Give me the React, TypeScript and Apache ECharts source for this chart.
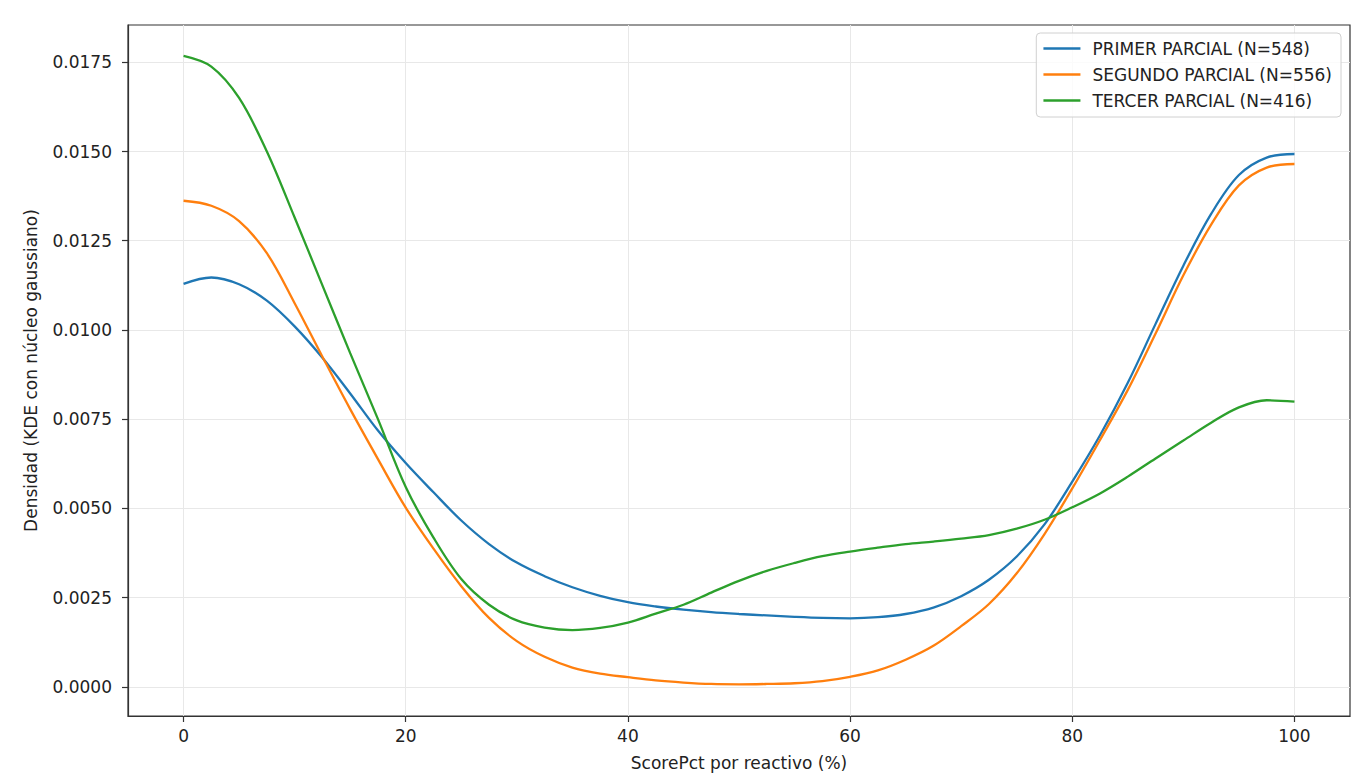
import React, { useEffect, useRef } from "react";
import * as echarts from "echarts";

const scorePct = [
  0, 2.5, 5, 7.5, 10, 12.5, 15, 17.5, 20, 22.5, 25, 27.5, 30, 32.5, 35, 37.5, 40,
  42.5, 45, 47.5, 50, 52.5, 55, 57.5, 60, 62.5, 65, 67.5, 70, 72.5, 75, 77.5, 80,
  82.5, 85, 87.5, 90, 92.5, 95, 97.5, 100,
];

const primer = [
  0.01129, 0.01147, 0.01128, 0.01082, 0.0101, 0.00922, 0.00822, 0.00718, 0.00627,
  0.00545, 0.00466, 0.004, 0.00348, 0.0031, 0.00279, 0.00255, 0.00237, 0.00225,
  0.00216, 0.00209, 0.00204, 0.002, 0.00196, 0.00193, 0.00192, 0.00195, 0.00204,
  0.00222, 0.00254, 0.003, 0.00365, 0.00455, 0.00575, 0.00705, 0.00852, 0.01017,
  0.0118, 0.01325, 0.01434, 0.01483, 0.01493,
];

const segundo = [
  0.01362, 0.01348, 0.01305, 0.01215, 0.01075, 0.00925, 0.00778, 0.00638, 0.00502,
  0.00387, 0.00282, 0.00193, 0.00128, 0.00084, 0.00054, 0.00037, 0.00027, 0.00018,
  0.00012, 0.00008, 0.00007, 0.00008, 0.0001, 0.00016, 0.00028, 0.00046, 0.00076,
  0.00115, 0.0017, 0.00232, 0.00318, 0.00428, 0.00556, 0.00692, 0.00832, 0.0099,
  0.01153, 0.01295, 0.01405, 0.01455, 0.01465,
];

const tercer = [
  0.01768, 0.01738, 0.0165, 0.015, 0.01315, 0.01125, 0.00935, 0.0075, 0.0056,
  0.00418, 0.00302, 0.0023, 0.00186, 0.00166, 0.00159, 0.00165, 0.0018, 0.00205,
  0.0023, 0.00264, 0.00297, 0.00325, 0.00347, 0.00366, 0.00379, 0.0039, 0.004,
  0.00407, 0.00415, 0.00425, 0.00443, 0.00468, 0.00503, 0.00542, 0.00589, 0.0064,
  0.0069, 0.0074, 0.00783, 0.00803, 0.00799,
];

const seriesNames = [
  "PRIMER PARCIAL (N=548)",
  "SEGUNDO PARCIAL (N=556)",
  "TERCER PARCIAL (N=416)",
];
const seriesColors = ["#1f77b4", "#ff7f0e", "#2ca02c"];

const xTicks = [0, 20, 40, 60, 80, 100];
const yTicks = [0, 0.0025, 0.005, 0.0075, 0.01, 0.0125, 0.015, 0.0175];

const FONT = "DejaVu Sans";

export default function App() {
  const ref = useRef<HTMLDivElement>(null);

  useEffect(() => {
    if (!ref.current) return;
    const chart = echarts.init(ref.current, undefined, { renderer: "svg" });
    const allSeries = [primer, segundo, tercer];
    chart.setOption({
      animation: false,
      backgroundColor: "#ffffff",
      textStyle: { fontFamily: FONT },
      grid: {
        left: 128,
        right: 7,
        top: 25,
        bottom: 61,
        show: true,
        borderColor: "#333333",
        borderWidth: 1.2,
        backgroundColor: "transparent",
      },
      legend: {
        orient: "vertical",
        right: 16,
        top: 33,
        padding: [7, 9, 8, 6],
        itemWidth: 37,
        itemHeight: 17,
        itemGap: 9,
        itemStyle: { opacity: 0 },
        lineStyle: { width: 2.3 },
        backgroundColor: "rgba(255,255,255,0.8)",
        borderColor: "#d0d0d0",
        borderWidth: 1,
        borderRadius: 4,
        textStyle: {
          fontFamily: FONT,
          fontSize: 17,
          color: "#222222",
          padding: [0, 0, 0, 7],
        },
        data: seriesNames,
      },
      xAxis: {
        type: "value",
        min: -5,
        max: 105,
        name: "ScorePct por reactivo (%)",
        nameLocation: "middle",
        nameGap: 38,
        nameTextStyle: { fontFamily: FONT, fontSize: 17, color: "#222222" },
        axisLine: {
          show: true,
          onZero: false,
          lineStyle: { color: "#333333", width: 1.2 },
        },
        axisTick: {
          show: true,
          length: 6,
          lineStyle: { color: "#333333", width: 1.2 },
          customValues: xTicks,
        },
        axisLabel: {
          fontFamily: FONT,
          fontSize: 17,
          color: "#222222",
          margin: 11,
          customValues: xTicks,
        },
        splitLine: { show: true, lineStyle: { color: "#e8e8e8", width: 1 } },
      },
      yAxis: {
        type: "value",
        min: -0.000818,
        max: 0.018545,
        name: "Densidad (KDE con núcleo gaussiano)",
        nameLocation: "middle",
        nameGap: 89,
        nameTextStyle: { fontFamily: FONT, fontSize: 17, color: "#222222" },
        axisLine: {
          show: true,
          onZero: false,
          lineStyle: { color: "#333333", width: 1.2 },
        },
        axisTick: {
          show: true,
          length: 6,
          lineStyle: { color: "#333333", width: 1.2 },
          customValues: yTicks,
        },
        axisLabel: {
          fontFamily: FONT,
          fontSize: 17,
          color: "#222222",
          margin: 16,
          customValues: yTicks,
          formatter: (v: number) => v.toFixed(4),
        },
        splitLine: { show: true, lineStyle: { color: "#e8e8e8", width: 1 } },
      },
      series: allSeries.map((vals, i) => ({
        name: seriesNames[i],
        type: "line",
        data: scorePct.map((x, j) => [x, vals[j]]),
        smooth: 0.35,
        symbol: "none",
        showSymbol: false,
        lineStyle: { color: seriesColors[i], width: 2.3 },
        itemStyle: { color: seriesColors[i] },
        z: 3 + i,
      })),
    });
    return () => chart.dispose();
  }, []);

  return (
    <div
      ref={ref}
      style={{ position: "absolute", left: 0, top: 0, width: 1357, height: 777 }}
    />
  );
}
